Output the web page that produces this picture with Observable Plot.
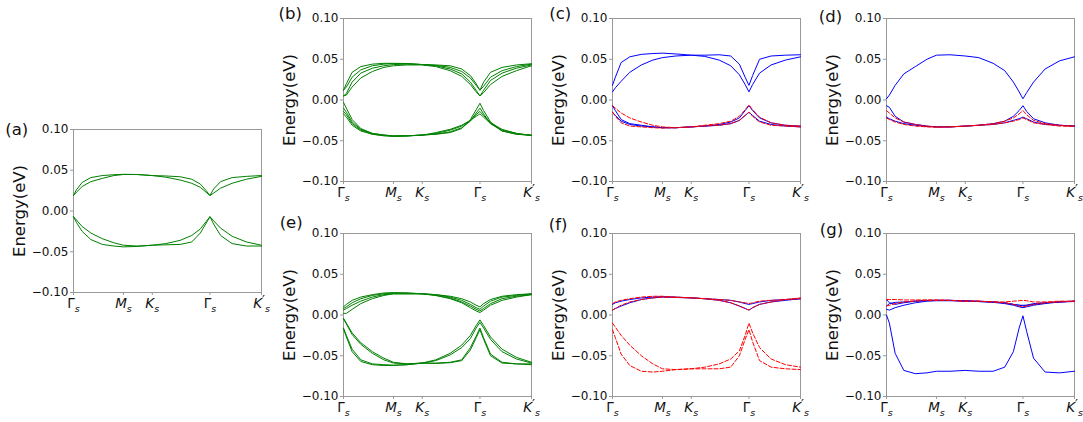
<!DOCTYPE html>
<html>
<head>
<meta charset="utf-8">
<script src="https://cdn.jsdelivr.net/npm/d3@7"></script>
<script src="https://cdn.jsdelivr.net/npm/@observablehq/plot@0.6"></script>
<style>
  html, body { margin: 0; padding: 0; background: white; }
  #fig { position: relative; width: 1083px; height: 422px; overflow: hidden; background: white; font-family: "DejaVu Sans", sans-serif; }
  #fig svg { position: absolute; }
</style>
</head>
<body>
<div id="fig"></div>
<script>
// ---- k-path sampling (path length units) and tick labels ----
const kPath = [0, 0.05, 0.15, 0.3, 0.5, 0.7, 0.866, 1.1, 1.366, 1.6, 1.85, 2.05, 2.2, 2.3, 2.366, 2.43, 2.55, 2.75, 3.0, 3.26];
const tickK = [0, 0.866, 1.366, 2.366, 3.26];
const tickNames = ["Γ_s", "M_s", "K_s", "Γ_s", "K′_s"];
const yTicks = [-0.1, -0.05, 0, 0.05, 0.1];

// ---- (a) ----
const a_up1 = [0.019, 0.026, 0.035, 0.041, 0.0435, 0.0445, 0.045, 0.0448, 0.0435, 0.043, 0.042, 0.039, 0.033, 0.025, 0.019, 0.027, 0.036, 0.041, 0.0425, 0.0435];
const a_up2 = [0.019, 0.023, 0.030, 0.036, 0.040, 0.0435, 0.0448, 0.0448, 0.0435, 0.0415, 0.038, 0.034, 0.029, 0.023, 0.019, 0.022, 0.028, 0.034, 0.039, 0.0425];
const a_lo1 = [-0.007, -0.014, -0.025, -0.035, -0.041, -0.043, -0.044, -0.0435, -0.042, -0.0415, -0.041, -0.038, -0.027, -0.015, -0.007, -0.016, -0.030, -0.040, -0.043, -0.043];
const a_lo2 = [-0.007, -0.011, -0.019, -0.027, -0.034, -0.039, -0.042, -0.043, -0.042, -0.040, -0.036, -0.030, -0.022, -0.013, -0.007, -0.012, -0.021, -0.031, -0.038, -0.042];

// ---- (b) ----
const b_up1 = [0.012, 0.020, 0.034, 0.041, 0.044, 0.045, 0.045, 0.0448, 0.0435, 0.043, 0.042, 0.038, 0.030, 0.020, 0.012, 0.022, 0.034, 0.040, 0.043, 0.0445];
const b_up2 = [0.012, 0.016, 0.028, 0.037, 0.042, 0.044, 0.0448, 0.0445, 0.0435, 0.0425, 0.040, 0.035, 0.027, 0.018, 0.012, 0.017, 0.028, 0.036, 0.041, 0.044];
const b_up3 = [0.005, 0.008, 0.022, 0.033, 0.039, 0.042, 0.0435, 0.044, 0.0435, 0.042, 0.038, 0.032, 0.022, 0.012, 0.005, 0.012, 0.024, 0.033, 0.039, 0.043];
const b_up4 = [0.005, 0.006, 0.016, 0.027, 0.035, 0.040, 0.042, 0.043, 0.043, 0.041, 0.036, 0.029, 0.019, 0.010, 0.005, 0.009, 0.019, 0.029, 0.036, 0.042];
const b_lo1 = [-0.003, -0.010, -0.024, -0.035, -0.041, -0.043, -0.044, -0.044, -0.043, -0.042, -0.040, -0.035, -0.024, -0.012, -0.004, -0.013, -0.027, -0.038, -0.042, -0.043];
const b_lo2 = [-0.010, -0.015, -0.027, -0.036, -0.041, -0.043, -0.0442, -0.044, -0.043, -0.042, -0.039, -0.034, -0.026, -0.016, -0.010, -0.017, -0.029, -0.038, -0.042, -0.0435];
const b_lo3 = [-0.014, -0.018, -0.029, -0.037, -0.042, -0.0435, -0.0445, -0.044, -0.043, -0.041, -0.037, -0.032, -0.025, -0.018, -0.014, -0.019, -0.028, -0.036, -0.041, -0.0435];
const b_lo4 = [-0.017, -0.021, -0.031, -0.038, -0.042, -0.044, -0.0445, -0.044, -0.0432, -0.040, -0.036, -0.031, -0.025, -0.020, -0.017, -0.021, -0.029, -0.037, -0.041, -0.0435];

// ---- (c) ----
const c_b1 = [0.018, 0.028, 0.046, 0.053, 0.056, 0.057, 0.0575, 0.0565, 0.055, 0.055, 0.0555, 0.054, 0.044, 0.028, 0.018, 0.030, 0.050, 0.054, 0.055, 0.0555];
const c_b2 = [0.010, 0.015, 0.023, 0.034, 0.043, 0.049, 0.052, 0.054, 0.055, 0.0535, 0.049, 0.042, 0.031, 0.019, 0.010, 0.019, 0.033, 0.043, 0.049, 0.053];
const c_b3 = [-0.007, -0.013, -0.024, -0.029, -0.031, -0.033, -0.034, -0.034, -0.033, -0.032, -0.030, -0.027, -0.022, -0.013, -0.007, -0.013, -0.022, -0.028, -0.031, -0.032];
const c_b4 = [-0.015, -0.019, -0.026, -0.030, -0.032, -0.033, -0.034, -0.034, -0.033, -0.032, -0.031, -0.029, -0.025, -0.019, -0.015, -0.019, -0.026, -0.030, -0.032, -0.033];
const c_r1 = [-0.007, -0.010, -0.016, -0.022, -0.027, -0.031, -0.033, -0.034, -0.033, -0.031, -0.029, -0.026, -0.020, -0.012, -0.006, -0.012, -0.021, -0.028, -0.031, -0.032];
const c_r2 = [-0.015, -0.020, -0.028, -0.032, -0.033, -0.034, -0.0345, -0.034, -0.033, -0.032, -0.031, -0.029, -0.025, -0.019, -0.015, -0.020, -0.027, -0.031, -0.032, -0.033];

// ---- (d) ----
const d_b1 = [0.0015, 0.006, 0.018, 0.032, 0.041, 0.050, 0.055, 0.0555, 0.054, 0.052, 0.045, 0.036, 0.022, 0.010, 0.0015, 0.009, 0.022, 0.038, 0.048, 0.053];
const d_b2 = [-0.007, -0.009, -0.020, -0.027, -0.030, -0.032, -0.033, -0.033, -0.032, -0.031, -0.029, -0.026, -0.020, -0.013, -0.007, -0.014, -0.023, -0.028, -0.031, -0.032];
const d_b3 = [-0.021, -0.023, -0.026, -0.029, -0.031, -0.0325, -0.033, -0.033, -0.032, -0.031, -0.030, -0.028, -0.025, -0.023, -0.021, -0.023, -0.027, -0.030, -0.031, -0.032];
const d_r1 = [-0.013, -0.016, -0.022, -0.027, -0.030, -0.032, -0.033, -0.033, -0.032, -0.031, -0.029, -0.026, -0.022, -0.017, -0.013, -0.018, -0.025, -0.029, -0.031, -0.032];
const d_r2 = [-0.022, -0.024, -0.027, -0.030, -0.032, -0.033, -0.0335, -0.033, -0.032, -0.031, -0.030, -0.028, -0.026, -0.024, -0.022, -0.024, -0.028, -0.030, -0.032, -0.0325];

// ---- (e) ----
const e_up1 = [0.010, 0.013, 0.018, 0.022, 0.025, 0.027, 0.0275, 0.027, 0.026, 0.025, 0.023, 0.020, 0.016, 0.012, 0.010, 0.014, 0.019, 0.023, 0.025, 0.026];
const e_up2 = [0.008, 0.010, 0.015, 0.020, 0.024, 0.026, 0.027, 0.027, 0.026, 0.025, 0.022, 0.018, 0.013, 0.009, 0.007, 0.011, 0.017, 0.022, 0.024, 0.026];
const e_up3 = [0.006, 0.008, 0.012, 0.017, 0.022, 0.025, 0.026, 0.026, 0.026, 0.024, 0.021, 0.016, 0.011, 0.007, 0.005, 0.008, 0.014, 0.020, 0.023, 0.025];
const e_up4 = [0.002, 0.002, 0.007, 0.014, 0.020, 0.024, 0.026, 0.026, 0.026, 0.024, 0.020, 0.015, 0.009, 0.005, 0.003, 0.006, 0.012, 0.018, 0.022, 0.025];
const e_lo1 = [-0.004, -0.010, -0.022, -0.034, -0.045, -0.053, -0.058, -0.060, -0.059, -0.055, -0.047, -0.037, -0.025, -0.013, -0.006, -0.013, -0.027, -0.042, -0.052, -0.058];
const e_lo2 = [-0.016, -0.025, -0.042, -0.055, -0.060, -0.061, -0.0615, -0.061, -0.059, -0.059, -0.058, -0.055, -0.040, -0.026, -0.016, -0.028, -0.048, -0.058, -0.060, -0.060];
const e_lo3 = [-0.017, -0.027, -0.045, -0.057, -0.061, -0.062, -0.062, -0.061, -0.059, -0.0595, -0.0585, -0.056, -0.043, -0.028, -0.018, -0.030, -0.050, -0.059, -0.060, -0.061];
const e_lo4 = [-0.005, -0.011, -0.024, -0.036, -0.047, -0.055, -0.059, -0.060, -0.059, -0.056, -0.049, -0.040, -0.029, -0.016, -0.009, -0.016, -0.030, -0.045, -0.054, -0.059];

// ---- (f) ----
const f_b1 = [0.013, 0.015, 0.017, 0.019, 0.021, 0.022, 0.0225, 0.022, 0.021, 0.020, 0.019, 0.018, 0.016, 0.014, 0.013, 0.014, 0.016, 0.018, 0.019, 0.020];
const f_b2 = [0.006, 0.008, 0.011, 0.015, 0.019, 0.021, 0.022, 0.0215, 0.021, 0.020, 0.018, 0.015, 0.011, 0.008, 0.006, 0.009, 0.013, 0.016, 0.018, 0.020];
const f_r1 = [0.014, 0.016, 0.018, 0.020, 0.022, 0.023, 0.023, 0.022, 0.021, 0.020, 0.019, 0.018, 0.016, 0.015, 0.014, 0.015, 0.017, 0.018, 0.019, 0.020];
const f_r2 = [0.006, 0.008, 0.012, 0.016, 0.019, 0.021, 0.022, 0.0215, 0.021, 0.020, 0.018, 0.015, 0.011, 0.008, 0.006, 0.009, 0.013, 0.016, 0.019, 0.021];
const f_r3 = [-0.010, -0.015, -0.025, -0.037, -0.050, -0.060, -0.066, -0.067, -0.066, -0.064, -0.060, -0.054, -0.044, -0.025, -0.010, -0.022, -0.040, -0.054, -0.061, -0.064];
const f_r4 = [-0.018, -0.028, -0.048, -0.062, -0.069, -0.070, -0.069, -0.067, -0.066, -0.066, -0.066, -0.064, -0.050, -0.030, -0.018, -0.033, -0.056, -0.064, -0.066, -0.067];

// ---- (g) ----
const g_b1 = [0.019, 0.015, 0.013, 0.015, 0.017, 0.018, 0.018, 0.018, 0.017, 0.0165, 0.0155, 0.014, 0.012, 0.010, 0.009, 0.010, 0.012, 0.014, 0.016, 0.017];
const g_b2 = [0.007, 0.006, 0.009, 0.012, 0.015, 0.017, 0.0175, 0.0175, 0.017, 0.0165, 0.016, 0.015, 0.013, 0.012, 0.011, 0.012, 0.013, 0.015, 0.016, 0.0165];
const g_b3 = [0.011, 0.014, 0.0155, 0.016, 0.017, 0.0175, 0.018, 0.018, 0.0175, 0.017, 0.016, 0.015, 0.013, 0.012, 0.012, 0.012, 0.014, 0.015, 0.016, 0.017];
const g_b4 = [0.0, -0.010, -0.047, -0.068, -0.072, -0.071, -0.069, -0.069, -0.068, -0.069, -0.069, -0.064, -0.045, -0.016, -0.001, -0.020, -0.053, -0.070, -0.071, -0.069];
const g_r1 = [0.019, 0.019, 0.019, 0.0185, 0.0185, 0.0185, 0.0185, 0.018, 0.017, 0.017, 0.016, 0.016, 0.017, 0.0175, 0.018, 0.0175, 0.016, 0.016, 0.017, 0.017];
const g_r2 = [0.011, 0.012, 0.014, 0.016, 0.017, 0.018, 0.018, 0.018, 0.017, 0.017, 0.016, 0.015, 0.013, 0.011, 0.010, 0.011, 0.013, 0.015, 0.016, 0.017];

// ---- panels ----
const panels = [
  {id: "a", bands: [[a_up1, "g"], [a_up2, "g"], [a_lo1, "g"], [a_lo2, "g"]]},
  {id: "b", bands: [[b_up1, "g"], [b_up2, "g"], [b_up3, "g"], [b_up4, "g"], [b_lo1, "g"], [b_lo2, "g"], [b_lo3, "g"], [b_lo4, "g"]]},
  {id: "c", bands: [[c_b1, "b"], [c_b2, "b"], [c_b3, "b"], [c_b4, "b"], [c_r1, "r"], [c_r2, "r"]]},
  {id: "d", bands: [[d_b1, "b"], [d_b2, "b"], [d_b3, "b"], [d_r1, "r"], [d_r2, "r"]]},
  {id: "e", bands: [[e_up1, "g"], [e_up2, "g"], [e_up3, "g"], [e_up4, "g"], [e_lo1, "g"], [e_lo2, "g"], [e_lo3, "g"], [e_lo4, "g"]]},
  {id: "f", bands: [[f_b1, "b"], [f_b2, "b"], [f_r1, "r"], [f_r2, "r"], [f_r3, "r"], [f_r4, "r"]]},
  {id: "g", bands: [[g_b1, "b"], [g_b2, "b"], [g_b3, "b"], [g_b4, "b"], [g_r1, "r"], [g_r2, "r"]]}
];

// layout: frame top-left (fx, fy) and panel-letter centre (lx, ly), page pixels
const layout = {
  a: {fx: 72.7, fy: 128.5, lx: 16, ly: 129},
  b: {fx: 343.3, fy: 18.3, lx: 290, ly: 13.7},
  c: {fx: 612.3, fy: 18.3, lx: 560, ly: 13.7},
  d: {fx: 886, fy: 18.3, lx: 830, ly: 16.5},
  e: {fx: 343.3, fy: 232.7, lx: 291, ly: 221.7},
  f: {fx: 612.3, fy: 232.7, lx: 558, ly: 224},
  g: {fx: 886, fy: 232.7, lx: 831, ly: 228.5}
};

const styles = {
  g: {stroke: "#008000"},
  b: {stroke: "#0000ff"},
  r: {stroke: "#ff0000", strokeDasharray: "4,2"}
};

const fig = document.getElementById("fig");
const mL = 75, mT = 25, mR = 12, mB = 32, W = 188, H = 163;

for (const p of panels) {
  const L = layout[p.id];
  const svg = Plot.plot({
    width: mL + W + mR,
    height: mT + H + mB,
    marginLeft: mL, marginTop: mT, marginRight: mR, marginBottom: mB,
    style: {background: "transparent", overflow: "visible", fontFamily: "DejaVu Sans, sans-serif", color: "#111"},
    x: {domain: [0, 3.26]},
    y: {domain: [-0.1, 0.1]},
    marks: [
      Plot.frame({stroke: "#999"}),
      Plot.axisY(yTicks, {tickFormat: d3.format(".2f"), tickSize: 3, tickPadding: 2, fontSize: 12, stroke: "#999", fill: "#111", label: null}),
      Plot.axisX(tickK, {tickFormat: d => tickNames[tickK.indexOf(d)], tickSize: 3, tickPadding: 3, fontSize: 13.5, stroke: "#999", fill: "#111", label: null}),
      ...p.bands.map(([vals, c]) => Plot.line(vals, {x: (d, i) => kPath[i], y: d => d, strokeWidth: 1, ...styles[c]})),
      Plot.text(["Energy(eV)"], {frameAnchor: "left", text: d => d, rotate: -90, dx: -53.5, fontSize: 16.5, fill: "#111", textAnchor: "middle", lineAnchor: "middle"}),
      Plot.text([`(${p.id})`], {frameAnchor: "top-left", text: d => d, dx: L.lx - L.fx, dy: L.ly - L.fy, fontSize: 16.5, textAnchor: "middle", lineAnchor: "middle", fill: "#111"})
    ]
  });
  svg.style.left = (L.fx - mL) + "px";
  svg.style.top = (L.fy - mT) + "px";
  // math-style tick labels: Γ_s, M_s, K_s, K′_s
  svg.querySelectorAll('[aria-label="x-axis tick label"] text').forEach(t => {
    const s = t.textContent;
    const [main, sub] = s.split("_");
    const letter = main.replace("′", "");
    const prime = main.includes("′");
    const ital = letter === "Γ" ? "" : ' font-style="italic"';
    let html = `<tspan${ital}>${letter}</tspan>`;
    if (prime) {
      html += `<tspan font-size="13" dy="-4">′</tspan><tspan font-size="9.5" font-style="italic" dy="8">${sub}</tspan>`;
    } else {
      html += `<tspan font-size="9.5" font-style="italic" dy="4">${sub}</tspan>`;
    }
    t.innerHTML = html;
  });
  fig.appendChild(svg);
}
</script>
</body>
</html>
